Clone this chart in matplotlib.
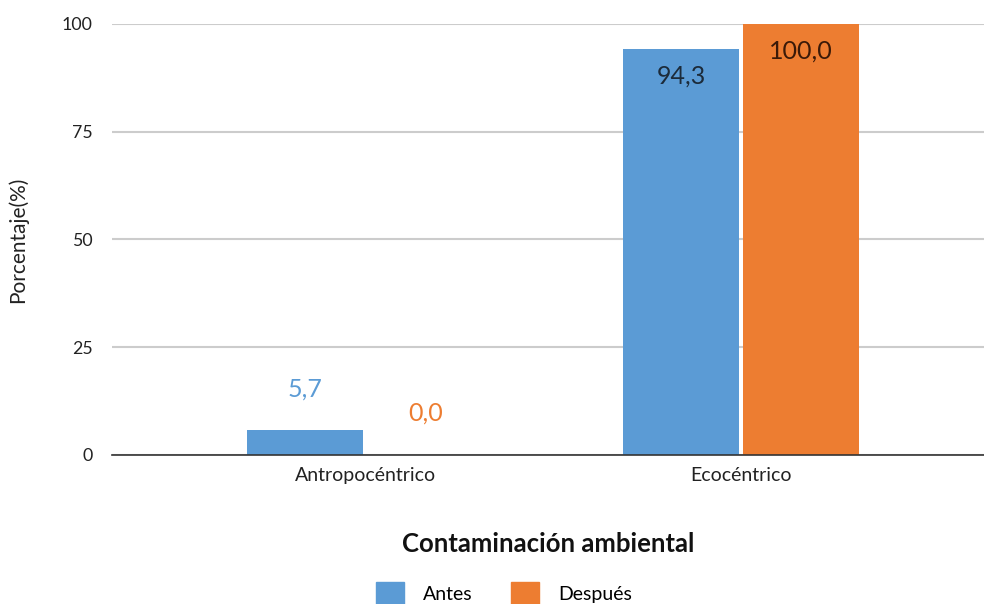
import matplotlib.pyplot as plt
import numpy as np
from matplotlib.patches import Patch

plt.rcParams['font.family'] = ['Lato', 'DejaVu Sans']

categorias = ['Antropocéntrico', 'Ecocéntrico']
antes = [5.7, 94.3]
despues = [0.0, 100.0]
series = ['Antes', 'Después']

azul = '#5B9BD5'
naranja = '#ED7D31'

fig = plt.figure(figsize=(9.84, 6.04), dpi=100)
ax = fig.add_axes([0.114, 0.2467, 0.886, 0.7136])

x = np.arange(len(categorias))
w = 0.309
off = 0.16
b1 = ax.bar(x - off, antes, w, color=azul, zorder=3)
b2 = ax.bar(x + off, despues, w, color=naranja, zorder=3)

# etiquetas de datos: encima si la barra es baja, dentro si es alta
def etiqueta(barras, valores, color_fuera, color_dentro):
    for rect, v in zip(barras, valores):
        cx = rect.get_x() + rect.get_width() / 2
        txt = f"{v:.1f}".replace('.', ',')
        if v > 50:
            ax.annotate(txt, (cx, v), xytext=(0, -19.5), textcoords='offset points',
                        ha='center', va='center', fontsize=18, color=color_dentro, zorder=4)
        else:
            ax.annotate(txt, (cx, v), xytext=(0, 30), textcoords='offset points',
                        ha='center', va='center', fontsize=18, color=color_fuera, zorder=4)

etiqueta(b1, antes, azul, '#1c2b3a')
etiqueta(b2, despues, naranja, '#3b1a08')

ax.set_ylim(0, 100)
ax.set_xlim(-0.673, 1.646)
ax.set_yticks([0, 25, 50, 75, 100])
ax.set_xticks(x)
ax.set_xticklabels(categorias)
ax.tick_params(axis='y', length=0, pad=14, labelsize=12.8, colors='#222222')
ax.tick_params(axis='x', length=0, pad=9, labelsize=14, colors='#222222')
ax.grid(axis='y', color='#cccccc', linewidth=1.5, zorder=0)
for s in ['top', 'right', 'left']:
    ax.spines[s].set_visible(False)
ax.spines['bottom'].set_color('#333333')
ax.spines['bottom'].set_linewidth(1.2)
ax.spines['bottom'].set_zorder(5)

ax.set_ylabel('Porcentaje(%)', fontsize=15, color='#222222', labelpad=24)
ax.set_xlabel('Contaminación ambiental', fontsize=18.5, fontweight='bold', color='#111111', labelpad=34)

handles = [Patch(color=azul), Patch(color=naranja)]
fig.legend(handles, series, loc='center', bbox_to_anchor=(0.512, 0.017), ncol=2, frameon=False,
           fontsize=14, handlelength=1.45, handleheight=1.5, columnspacing=2.0, handletextpad=0.95)

plt.savefig('out.png', dpi=100)
